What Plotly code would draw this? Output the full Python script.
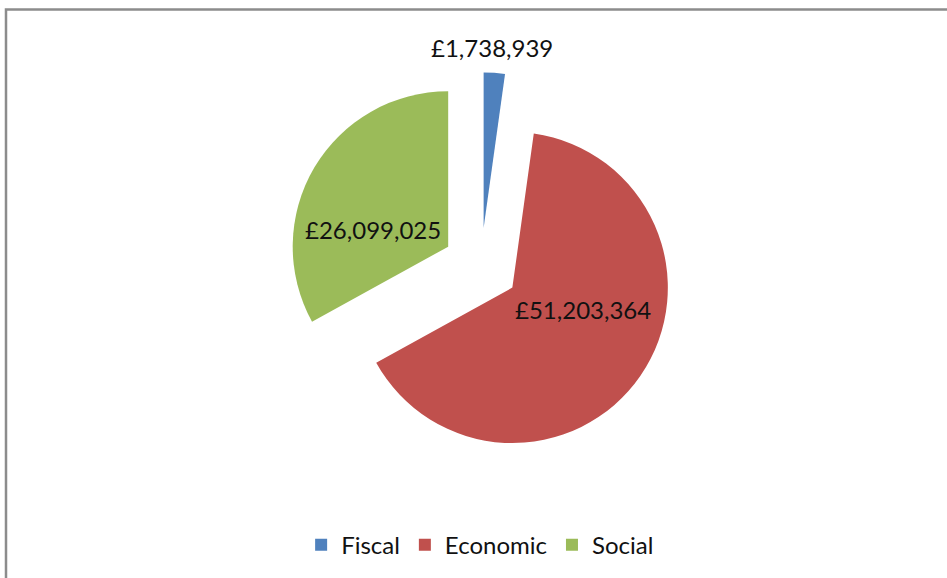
import plotly.graph_objects as go

# Spending breakdown by category
categories = ["Fiscal", "Economic", "Social"]
values = [1738939, 51203364, 26099025]
colors = ["#4F81BD", "#C0504D", "#9BBB59"]

# Where each value label sits (paper coordinates)
label_x = [0.5195, 0.6156, 0.3939]
label_y = [0.917, 0.4637, 0.6021]

FONT = "Lato"
TEXT_COLOR = "#111111"

fig = go.Figure(
    go.Pie(
        labels=categories,
        values=values,
        sort=False,
        direction="clockwise",
        rotation=0,
        pull=[0.245] * len(values),
        marker=dict(colors=colors, line=dict(width=0)),
        textinfo="none",
        domain=dict(x=[0.3035, 0.7123], y=[0.2048, 0.8747]),
        hoverinfo="label+value+percent",
    )
)

annotations = [
    dict(
        x=lx,
        y=ly,
        xref="paper",
        yref="paper",
        text=f"£{v:,.0f}",
        showarrow=False,
        xanchor="center",
        yanchor="middle",
        font=dict(family=FONT, size=24, color=TEXT_COLOR),
    )
    for v, lx, ly in zip(values, label_x, label_y)
]

fig.update_layout(
    width=947,
    height=578,
    margin=dict(l=0, r=0, t=0, b=0, autoexpand=False),
    paper_bgcolor="white",
    plot_bgcolor="white",
    font=dict(family=FONT, size=24, color=TEXT_COLOR),
    showlegend=True,
    legend=dict(
        orientation="h",
        x=0.507,
        xanchor="center",
        y=0.057,
        yanchor="middle",
        font=dict(family=FONT, size=24, color=TEXT_COLOR),
    ),
    annotations=annotations,
    shapes=[
        dict(
            type="rect",
            xref="paper",
            yref="paper",
            x0=6 / 947,
            x1=1.05,
            y0=-0.05,
            y1=1 - 9.5 / 578,
            line=dict(color="#8C8C8C", width=2.5),
            fillcolor="rgba(0,0,0,0)",
        )
    ],
)

fig.write_html("out.html")
